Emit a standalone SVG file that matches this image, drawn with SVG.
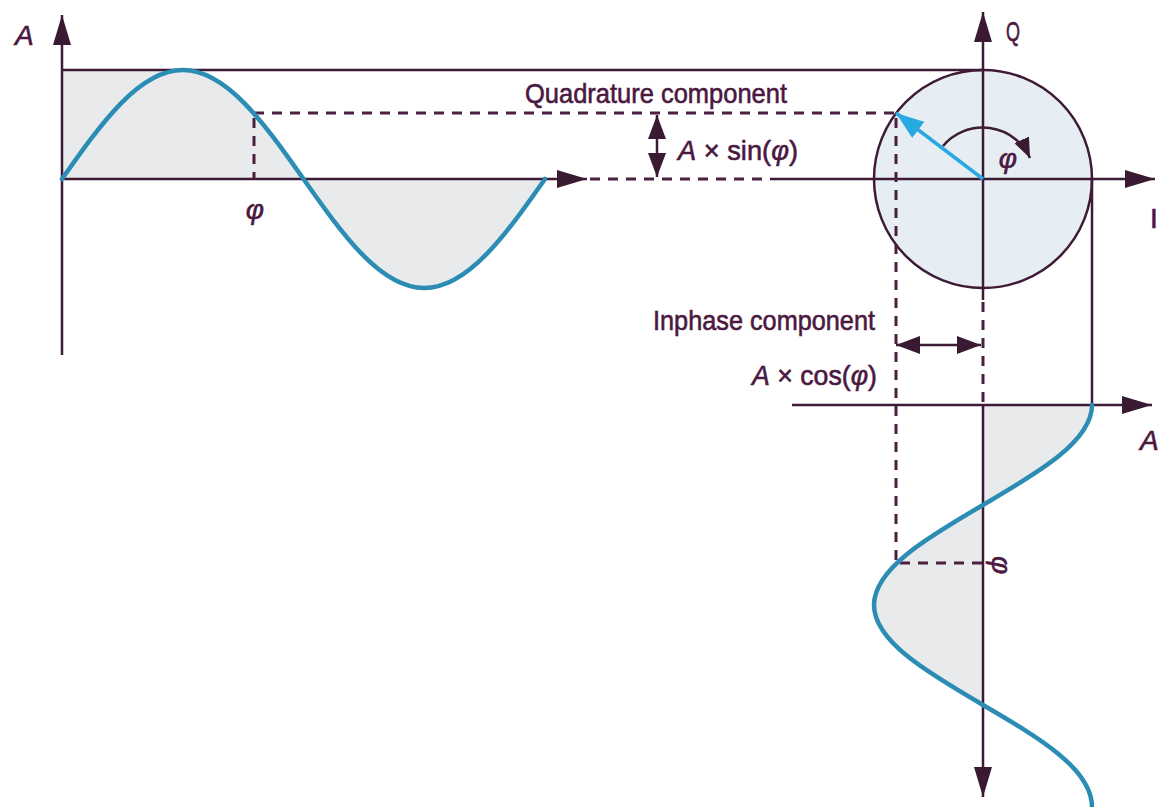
<svg xmlns="http://www.w3.org/2000/svg" width="1164" height="807" viewBox="0 0 1164 807">
<defs>
<style>
.ax{stroke:#3d1a36;stroke-width:2.5;fill:none}
.dash{stroke:#4a1f40;stroke-width:3;fill:none;stroke-dasharray:10 8}
.wave{stroke:#2b8cb4;stroke-width:4.5;fill:none;stroke-linecap:round}
.shade{fill:#e8eaec;stroke:none}
.lbl{font-family:"Liberation Sans",Arial,sans-serif;font-size:28px;fill:#4b1840;stroke:#4b1840;stroke-width:0.6}
.it{font-style:italic}
</style>
<marker id="ah" markerUnits="userSpaceOnUse" viewBox="0 0 30 18" refX="30" refY="9" markerWidth="30" markerHeight="18" orient="auto"><path d="M0,0 L30,9 L0,18 Z" fill="#3a1a33"/></marker>
<marker id="dh" markerUnits="userSpaceOnUse" viewBox="0 0 24 18" refX="24" refY="9" markerWidth="24" markerHeight="18" orient="auto-start-reverse"><path d="M0,0 L24,9 L0,18 Z" fill="#3a1a33"/></marker>
<marker id="sh" markerUnits="userSpaceOnUse" viewBox="0 0 20 16" refX="20" refY="8" markerWidth="20" markerHeight="16" orient="auto"><path d="M0,0 L20,8 L0,16 Z" fill="#3a1a33"/></marker>
<marker id="bh" markerUnits="userSpaceOnUse" viewBox="0 0 28 20" refX="28" refY="10" markerWidth="28" markerHeight="20" orient="auto"><path d="M0,0 L28,10 L0,20 Z" fill="#29a9e1"/></marker>
</defs>

<g id="shading">
<path class="shade" d="M62,70 L182.75,70 C226.45,70 264.12,123.16 303.5,179 C342.88,234.84 380.55,288 424.25,288 C467.95,288 505.62,234.84 545,179 L62,179 Z"/>
<circle cx="983" cy="179" r="109" fill="#e7eef3" stroke="#3d1a36" stroke-width="2.5"/>
<path class="shade" d="M983,405 L1092,405 C1092,441.19 1038.84,472.39 983,505 C927.16,537.61 874,568.81 874,605 C874,641.19 927.16,672.39 983,705 Z"/>
</g>

<g id="connectors">
<line class="ax" x1="62" y1="355" x2="62" y2="15" marker-end="url(#ah)"/>
<line class="ax" x1="62" y1="179" x2="587" y2="179" marker-end="url(#ah)"/>
<line class="ax" x1="62" y1="70" x2="983" y2="70"/>
<line class="dash" x1="590" y1="179" x2="770" y2="179"/>
<line class="ax" x1="770" y1="179" x2="1155" y2="179" marker-end="url(#ah)"/>
<line class="ax" x1="983" y1="300" x2="983" y2="12" marker-end="url(#ah)"/>
<line class="dash" x1="983" y1="302" x2="983" y2="405"/>
<line class="ax" x1="983" y1="405" x2="983" y2="797" marker-end="url(#ah)"/>
<line class="ax" x1="792" y1="405" x2="1152" y2="405" marker-end="url(#ah)"/>
<line class="ax" x1="1092" y1="179" x2="1092" y2="405"/>
<line class="dash" x1="254" y1="113" x2="896" y2="113"/>
<line class="dash" x1="254" y1="118" x2="254" y2="179"/>
<line class="dash" x1="896" y1="118" x2="896" y2="563"/>
<line class="dash" x1="900" y1="563" x2="983" y2="563"/>
<line class="ax" x1="657" y1="115" x2="657" y2="177" stroke-width="3" marker-start="url(#dh)" marker-end="url(#dh)"/>
<line class="ax" x1="896" y1="345" x2="981" y2="345" stroke-width="3" marker-start="url(#dh)" marker-end="url(#dh)"/>
<path class="ax" stroke-width="3" d="M943,146 A52,52 0 0 1 1030,158" marker-end="url(#sh)"/>
<line x1="983" y1="179" x2="896" y2="113" stroke="#29a9e1" stroke-width="3.5" marker-end="url(#bh)"/>
</g>

<g id="waves">
<path class="wave" d="M62,179 C101.38,123.16 139.05,70 182.75,70 C226.45,70 264.12,123.16 303.5,179 C342.88,234.84 380.55,288 424.25,288 C467.95,288 505.62,234.84 545,179"/>
<path class="wave" d="M1092,405 C1092,441.19 1038.84,472.39 983,505 C927.16,537.61 874,568.81 874,605 C874,641.19 927.16,672.39 983,705 C1038.84,737.61 1092,768.81 1092,807"/>
</g>

<g id="labels">
<text class="lbl it" x="15" y="45">A</text>
<text class="lbl" x="1006" y="41" textLength="14" lengthAdjust="spacingAndGlyphs">Q</text>
<text class="lbl" x="1150" y="228">I</text>
<text class="lbl it" x="1140" y="450">A</text>
<text class="lbl it" x="255" y="219" text-anchor="middle">φ</text>
<text class="lbl it" x="1008" y="168" text-anchor="middle">φ</text>
<text class="lbl it" transform="translate(1000,565) rotate(90)" text-anchor="middle" y="8">φ</text>
<text class="lbl" x="525" y="103" textLength="262" lengthAdjust="spacingAndGlyphs">Quadrature component</text>
<text class="lbl" x="678" y="160" textLength="120" lengthAdjust="spacingAndGlyphs"><tspan class="it">A</tspan> × sin(<tspan class="it">φ</tspan>)</text>
<text class="lbl" x="653" y="330" textLength="222" lengthAdjust="spacingAndGlyphs">Inphase component</text>
<text class="lbl" x="752" y="385" textLength="125" lengthAdjust="spacingAndGlyphs"><tspan class="it">A</tspan> × cos(<tspan class="it">φ</tspan>)</text>
</g>
</svg>
